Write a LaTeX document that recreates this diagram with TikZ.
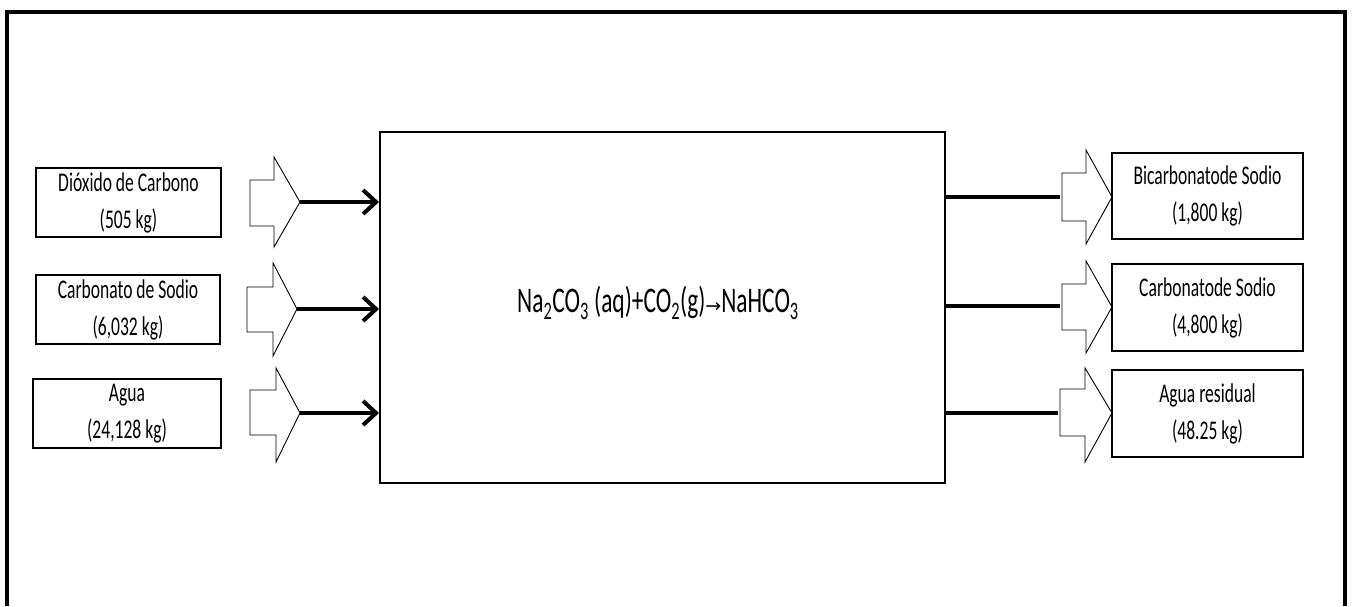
\documentclass[tikz,border=0pt]{standalone}
\usepackage{fontspec}
\setmainfont[FakeStretch=0.65]{Carlito}
\newfontfamily\arrowfont{DejaVu Sans}
\usetikzlibrary{arrows.meta}
\tikzset{
  inbox/.style={draw, line width=1.8pt, inner sep=0pt, align=center,
    font=\fontsize{27}{37}\selectfont},
  mainbox/.style={draw, line width=2pt, inner sep=0pt, minimum width=565pt, minimum height=351pt},
  blockarrow/.style={draw, line width=0.9pt, line join=miter},
  feed/.style={line width=4pt, -{Straight Barb[length=13pt,width=24pt,line width=4pt]}},
  prod/.style={line width=4pt},
  frame/.style={line width=4pt}
}
\begin{document}
\begin{tikzpicture}[x=1pt,y=-1pt]
\useasboundingbox (0,0) rectangle (1353,606);
\fill[white] (0,0) rectangle (1353,606);
% outer frame (open at the bottom)
\draw[frame] (7,606) -- (7,12) -- (1345,12) -- (1345,606);
% main process box
\node[mainbox] (main) at (662.5,307.5) {};
\node (eq) at (658,303) {\fontsize{36}{44}\selectfont Na\textsubscript{2}CO\textsubscript{3} (aq)+CO\textsubscript{2}(g){\arrowfont\fontsize{19}{19}\selectfont →}NaHCO\textsubscript{3}};
% input boxes
\node[inbox, minimum width=185pt, minimum height=69pt] (in1) at (128.5,202.5) {Dióxido de Carbono\\(505 kg)};
\node[inbox, minimum width=184pt, minimum height=69pt] (in2) at (128,309.5) {Carbonato de Sodio\\(6,032 kg)};
\node[inbox, minimum width=188pt, minimum height=69pt] (in3) at (127,413.5) {Agua\\(24,128 kg)};
% output boxes
\node[inbox, minimum width=191pt, minimum height=86pt] (out1) at (1207.5,196) {Bicarbonatode Sodio\\(1,800 kg)};
\node[inbox, minimum width=191pt, minimum height=87pt] (out2) at (1207.5,307.5) {Carbonatode Sodio\\(4,800 kg)};
\node[inbox, minimum width=191pt, minimum height=87pt] (out3) at (1207.5,413.5) {Agua residual\\(48.25 kg)};
% input block arrows
\draw[blockarrow] (250,180) -- (274,180) -- (274,157) -- (300,202) coordinate (t1) -- (274,247) -- (274,226) -- (250,226) -- cycle;
\draw[blockarrow] (247,287) -- (273,287) -- (273,263) -- (297,309) coordinate (t2) -- (273,356) -- (273,332) -- (247,332) -- cycle;
\draw[blockarrow] (250,390) -- (276,390) -- (276,368) -- (300,413) coordinate (t3) -- (276,462) -- (276,435) -- (250,435) -- cycle;
% output block arrows
\draw[blockarrow] (1062,173) -- (1086,173) -- (1086,150) -- (1112,197) -- (1086,244) -- (1086,221) -- (1062,221) -- cycle;
\coordinate (s1) at (1060,197);
\draw[blockarrow] (1062,284) -- (1086,284) -- (1086,261) -- (1112,307) -- (1086,353) -- (1086,330) -- (1062,330) -- cycle;
\coordinate (s2) at (1060,306);
\draw[blockarrow] (1060,389) -- (1085,389) -- (1085,368) -- (1112,413) -- (1085,462) -- (1085,436) -- (1060,436) -- cycle;
\coordinate (s3) at (1058,413);
% feed connectors
\draw[feed] (t1) -- (t1 -| main.west);
\draw[feed] (t2) -- (t2 -| main.west);
\draw[feed] (t3) -- (t3 -| main.west);
% product connectors
\draw[prod] (s1 -| main.east) -- (s1);
\draw[prod] (s2 -| main.east) -- (s2);
\draw[prod] (s3 -| main.east) -- (s3);
\end{tikzpicture}
\end{document}
